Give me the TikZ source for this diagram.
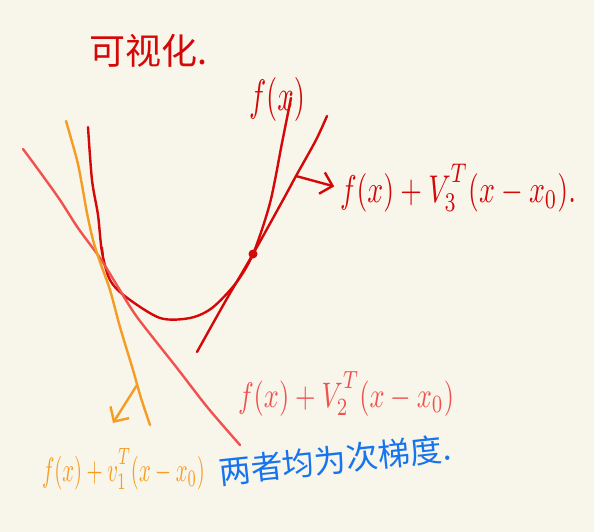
\documentclass[tikz,border=0pt]{standalone}
\usepackage{fontspec}
\usepackage{graphicx}
\newfontfamily\cjk{Noto Sans CJK SC}
\usetikzlibrary{arrows.meta}
\definecolor{bgc}{RGB}{248,245,234}
\definecolor{fred}{RGB}{212,8,8}
\definecolor{coral}{RGB}{240,82,80}
\definecolor{orng}{RGB}{245,156,36}
\definecolor{blu}{RGB}{22,116,238}
\newcommand{\supT}{\raisebox{0.35ex}{$\scriptstyle T$}}
\tikzset{
  stroke/.style={line width=2.4pt, line cap=round, line join=round},
  lbl/.style={inner sep=0pt, outer sep=0pt},
  barb/.style={stroke, -{Straight Barb[length=11pt,width=22pt,line width=2.4pt]}}
}
\begin{document}
\begin{tikzpicture}[x=1pt,y=-1pt]
\fill[bgc] (0,0) rectangle (594,532);
\useasboundingbox (0,0) rectangle (594,532);
% f(x)
\draw[stroke,fred] plot[smooth,tension=0.5] coordinates {(88,127) (92,180) (98,215) (102,252) (110,280) (126,297) (160,318) (190,318) (212,308) (236,283) (253,254) (270,203) (282,143) (291,98)};
% tangent 3
\draw[stroke,fred] plot[smooth,tension=0.5] coordinates {(327,116) (316,140) (296,176) (283,200) (253,254) (225,302) (197,352)};
\fill[fred] (253,254) circle (4.5);
\draw[fred, line width=2pt] (102,247) -- (103,256);
% tangent 2 (coral)
\draw[stroke,coral] plot[smooth,tension=0.5] coordinates {(23,149) (40,172) (60,200) (78,228) (100,258) (118,287) (137,317) (177,368) (208,408) (240,445)};
% tangent 1 (orange)
\draw[stroke,orng] plot[smooth,tension=0.5] coordinates {(66,121) (77,160) (82,185) (87,213) (93,240) (100,262) (110,290) (120,327) (133,370) (141,398) (150,425)};
% labels
\node[lbl,fred,anchor=center] (title) at (149,51) {\cjk\fontsize{36}{40}\selectfont 可视化.};
\node[lbl,fred] (lfx) at (277,100) {\resizebox*{56pt}{44pt}{$f(x)$}};
\node[lbl,fred,anchor=west] (lab3) at (340,188) {\resizebox*{236pt}{48pt}{$f(x)+V_3^{\supT}(x-x_0).$}};
\node[lbl,coral,anchor=west] (lab2) at (238,394) {\resizebox*{216pt}{44pt}{$f(x)+V_2^{\supT}(x-x_0)$}};
\node[lbl,orng,anchor=west] (lab1) at (42,469) {\resizebox*{163pt}{42pt}{$f(x)+v_1^{\supT}(x-x_0)$}};
\node[lbl,blu,anchor=west,rotate=6] (note) at (219,472) {\cjk\fontsize{32}{36}\selectfont 两者均为次梯度.};
% arrows
\coordinate (t3a) at (296,176);
\draw[barb,fred,shorten >=6pt] (t3a) -- (lab3.west);
\coordinate (oa) at (137,385);
\coordinate (ob) at (113,423);
\draw[barb,orng] (oa) -- (ob);
\end{tikzpicture}
\end{document}
